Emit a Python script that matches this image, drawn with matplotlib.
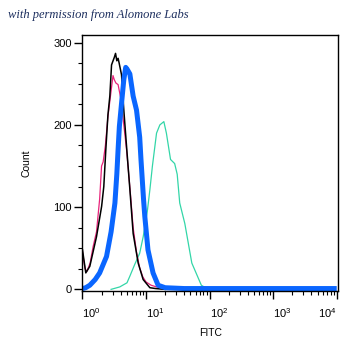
import matplotlib
matplotlib.use("Agg")
import matplotlib.pyplot as plt
from matplotlib.ticker import LogLocator, MultipleLocator, FixedLocator, NullFormatter

plt.rcParams['font.family'] = ['Liberation Sans', 'DejaVu Sans']
plt.rcParams['mathtext.fontset'] = 'custom'
plt.rcParams['mathtext.rm'] = 'Liberation Sans'
plt.rcParams['mathtext.it'] = 'Liberation Sans'

# ---- data (FITC intensity, cell count) ----
black_x = [1.0, 1.127, 1.303, 1.66, 2.0, 2.163, 2.328, 2.512, 2.692, 2.864, 3.162, 3.311,
           3.467, 3.631, 3.776, 4.111, 4.467, 4.932, 5.559, 6.266, 7.516, 8.995, 11.48, 14.13, 19.95]
black_y = [48, 20, 28, 64, 101, 125, 170, 212, 235, 273, 282, 287,
           278, 281, 275, 261, 218, 174, 122, 68, 32, 12, 2, 1, 0]

pink_x = [1.0, 1.096, 1.175, 1.318, 1.469, 1.66, 1.862, 1.995, 2.113, 2.291, 2.512, 2.754,
          3.02, 3.162, 3.35, 3.631, 3.981, 4.467, 4.932, 5.623, 6.266, 7.079, 7.943, 8.913,
          10.0, 12.02, 14.62, 17.78, 25.12, 31.62]
pink_y = [45, 25, 22, 32, 52, 70, 110, 150, 155, 175, 210, 235,
          260, 255, 251, 249, 233, 200, 170, 120, 75, 45, 26, 15,
          9, 5, 3, 1.5, 0.5, 0.5]

blue_x = [1.0, 1.122, 1.303, 1.585, 1.862, 2.388, 2.818, 3.236, 3.467, 3.631, 3.802, 4.111,
          4.467, 4.786, 5.012, 5.559, 6.266, 7.079, 7.943, 8.318, 9.12, 9.55, 10.72, 12.88,
          15.49, 19.95, 39.81, 10000]
blue_y = [1, 2, 5, 12, 20, 40, 70, 105, 140, 170, 198, 226,
          255, 270, 268, 262, 235, 218, 185, 158, 110, 89, 48, 20,
          5, 2, 1, 1]

teal_x = [2.818, 3.864, 5.012, 5.559, 6.607, 7.943, 9.016, 10.47, 11.48, 12.59, 14.62, 16.48,
          19.05, 20.89, 24.27, 28.18, 30.9, 33.88, 40.74, 52.48, 74.13, 95.5]
teal_y = [0, 3, 8, 16, 30, 44, 64, 95, 121, 150, 190, 200,
          204, 190, 158, 153, 140, 105, 80, 32, 5, 0]

x_ticks = [1, 10, 100, 1000, 10000]
x_ticklabels = ['$10^{0}$', '$10^{1}$', '$10^{2}$', '$10^{3}$', '$10^{4}$']
y_ticks = [0, 100, 200, 300]

fig = plt.figure(figsize=(3.59, 3.59), dpi=100)
ax = fig.add_axes([0.2298, 0.1894, 0.7117, 0.7123])

ax.plot(teal_x, teal_y, color='#33d6a8', lw=0.9)
ax.plot(pink_x, pink_y, color='#e8237a', lw=0.9)
ax.plot(black_x, black_y, color='black', lw=1.1)
ax.plot(blue_x, blue_y, color='#0a66ff', lw=3.6, solid_capstyle='butt')

ax.set_xscale('log')
ax.set_xlim(1, 10 ** 4.02)
ax.set_ylim(-2, 309)

ax.xaxis.set_major_locator(FixedLocator(x_ticks))
ax.xaxis.set_minor_locator(LogLocator(base=10, subs=range(2, 10), numticks=20))
ax.xaxis.set_minor_formatter(NullFormatter())
ax.set_xticklabels(x_ticklabels)
for i, lab in enumerate(ax.get_xticklabels()):
    lab.set_ha('right' if i == len(x_ticks) - 1 else 'left')

ax.yaxis.set_major_locator(FixedLocator(y_ticks))
ax.yaxis.set_minor_locator(MultipleLocator(25))

ax.tick_params(which='major', direction='out', length=6, width=1, labelsize=8, pad=1.5)
ax.tick_params(which='minor', direction='out', length=3, width=0.8)
ax.tick_params(axis='x', which='major', pad=5)
for s in ax.spines.values():
    s.set_linewidth(1.0)

ax.set_xlabel('FITC', fontsize=7.5, labelpad=6)
ax.set_ylabel('Count', fontsize=7.5, labelpad=16)

fig.text(0.022, 0.957, 'with permission from Alomone Labs', fontsize=9,
         family='Liberation Serif', style='italic', color='#1c2e5e', va='center', ha='left')

fig.savefig('out.png', dpi=100)
